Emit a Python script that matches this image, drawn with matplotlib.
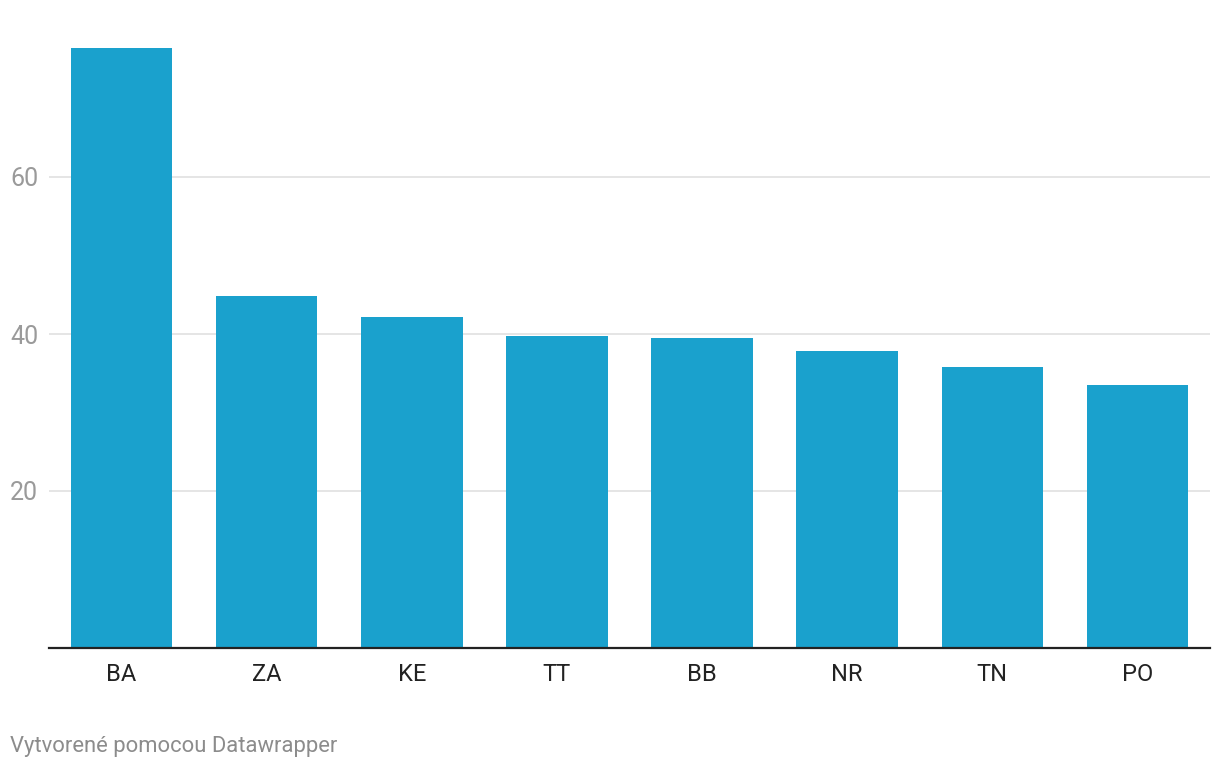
import matplotlib
matplotlib.use("Agg")
import matplotlib.pyplot as plt

categories = ["BA", "ZA", "KE", "TT", "BB", "NR", "TN", "PO"]
values = [76.4, 44.8, 42.2, 39.7, 39.5, 37.8, 35.8, 33.5]
yticks = [20, 40, 60]

plt.rcParams['font.family'] = ['Roboto', 'DejaVu Sans']

W, H = 1220, 768
fig = plt.figure(figsize=(W/100, H/100), dpi=100)
ax = fig.add_axes([49/W, (H-648)/H, (1210-49)/W, (648-20)/H])

x = list(range(len(categories)))
ax.bar(x, values, width=0.70, color="#1aa1cd", zorder=3)
ax.set_xlim(-0.5, len(categories)-0.5)
ax.set_ylim(0, 80)

ax.set_yticks(yticks)
ax.set_yticklabels([str(t) for t in yticks])
ax.grid(axis='y', color='#e3e3e3', linewidth=1.3, zorder=0)
ax.tick_params(axis='y', length=0, labelsize=18, labelcolor='#9a9a9a', pad=28)
for lbl in ax.get_yticklabels():
    lbl.set_horizontalalignment('left')

ax.set_xticks(x)
ax.set_xticklabels(categories)
ax.tick_params(axis='x', length=0, labelsize=17, labelcolor='#222222', pad=10.5)

for s in ['top', 'right', 'left']:
    ax.spines[s].set_visible(False)
ax.spines['bottom'].set_color('#222222')
ax.spines['bottom'].set_linewidth(1.6)
ax.spines['bottom'].set_zorder(4)

fig.text(10/W, (H-752)/H, "Vytvorené pomocou Datawrapper", fontsize=15.8,
         color='#8c8c8c', ha='left', va='baseline')

fig.savefig("out.png", dpi=100, facecolor='white')
